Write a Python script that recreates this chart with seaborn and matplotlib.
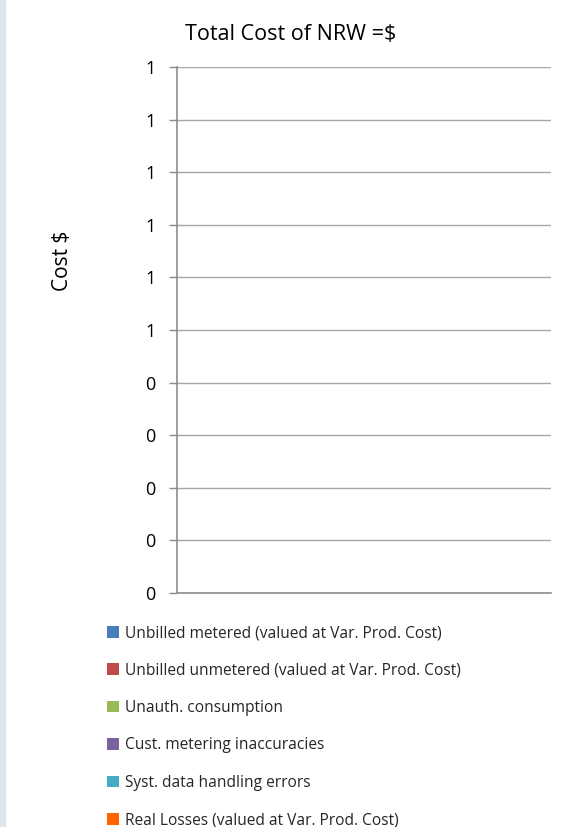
import matplotlib
matplotlib.use("Agg")
import matplotlib.pyplot as plt
from matplotlib.patches import Patch, Rectangle
from matplotlib.ticker import FuncFormatter, MultipleLocator
import numpy as np
import pandas as pd
import seaborn as sns

# NRW cost components (no data entered yet -> all zero)
categories = [""]
components = [
    "Unbilled metered (valued at Var. Prod. Cost)",
    "Unbilled unmetered (valued at Var. Prod. Cost)",
    "Unauth. consumption",
    "Cust. metering inaccuracies",
    "Syst. data handling errors",
    "Real Losses (valued at Var. Prod. Cost)",
]
costs = [0, 0, 0, 0, 0, 0]
colors = ["#4a7ebb", "#be4b48", "#98b954", "#7d60a0", "#46aac5", "#ff6600"]

title = "Total Cost of NRW =$"
ylabel = "Cost $"

sns.set_theme(style="white")
plt.rcParams["font.family"] = ["Open Sans", "DejaVu Sans"]

W, H = 564, 827
fig = plt.figure(figsize=(W / 100, H / 100), dpi=100)

# light blue strip on the left edge
fig.patches.append(Rectangle((0, 0), 6 / W, 1, transform=fig.transFigure,
                             facecolor="#dce6f1", edgecolor="none", zorder=0))

left, right, top, bottom = 176.5, 550.5, 67, 593
ax = fig.add_axes([left / W, 1 - bottom / H, (right - left) / W, (bottom - top) / H])

df = pd.DataFrame({"category": categories * len(components),
                   "component": components,
                   "cost": costs})

# stacked bars: each component sits on top of the running total
base = np.zeros(len(categories))
for comp, col in zip(components, colors):
    sub = df[df["component"] == comp]
    sns.barplot(data=sub, x="category", y="cost", color=col, ax=ax,
                bottom=base, width=0.5, errorbar=None)
    base = base + sub["cost"].to_numpy()

ax.set_ylim(0, 1)
ax.yaxis.set_major_locator(MultipleLocator(0.1))
ax.yaxis.set_major_formatter(FuncFormatter(lambda v, p: f"{int(np.floor(v + 0.5 + 1e-9))}"))
ax.grid(axis="y", color="#a6a6a6", linewidth=1.0)
ax.set_axisbelow(True)
for s in ["top", "right"]:
    ax.spines[s].set_visible(False)
for s in ["left", "bottom"]:
    ax.spines[s].set_color("#8c8c8c")
    ax.spines[s].set_linewidth(1.2)
ax.set_xticks([])
ax.set_xlabel("")
ax.set_ylabel("")
ax.tick_params(axis="y", which="major", left=True, length=6, width=1.0,
               color="#8c8c8c", labelsize=13, pad=9, labelcolor="black")

fig.text(291 / W, 1 - 34 / H, title, ha="center", va="center", fontsize=15.5, color="black")
fig.text(62 / W, 1 - 261 / H, ylabel, ha="center", va="center", rotation=90,
         fontsize=15, color="black")

handles = [Patch(facecolor=c, edgecolor="none", label=l) for c, l in zip(colors, components)]
fig.legend(handles=handles, loc="upper left", bbox_to_anchor=(107 / W, 1 - 625 / H),
           frameon=False, fontsize=11.2, handlelength=0.8, handleheight=0.8,
           handletextpad=0.35, labelspacing=1.38, borderaxespad=0, borderpad=0)

fig.savefig("out.png", dpi=100, facecolor="white")
